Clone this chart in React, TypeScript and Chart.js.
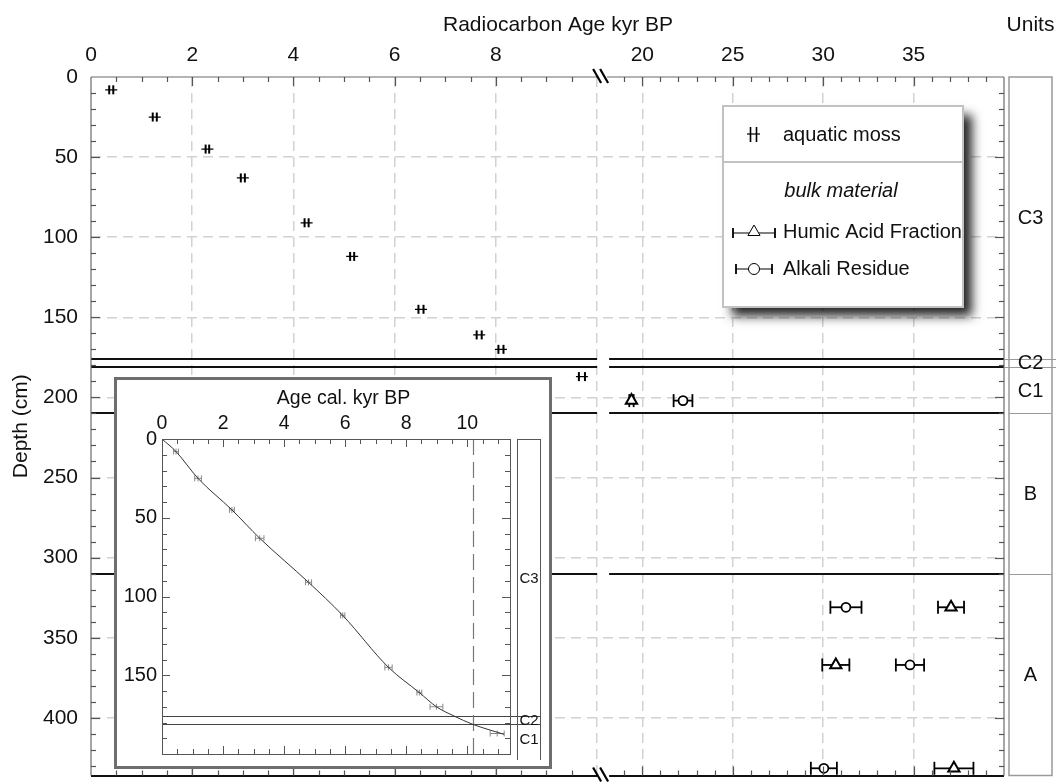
import React, { useEffect, useRef } from 'react';
import { Chart, registerables } from 'chart.js';

Chart.register(...registerables);

// ---------------- data ----------------
// aquatic moss (radiocarbon, left panel)
const mossAge = [0.4, 1.26, 2.3, 3.0, 4.26, 5.16, 6.52, 7.67, 8.1, 9.7];
const mossErr = [0.04, 0.04, 0.035, 0.04, 0.04, 0.04, 0.05, 0.05, 0.05, 0.06];
const mossDepth = [8, 25, 45, 63, 91, 112, 145, 161, 170, 187];

// bulk material (right panel)
const humicAge = [19.4, 37.07, 30.7, 37.23];
const humicErr = [0.12, 0.72, 0.75, 1.08];
const humicDepth = [202, 331, 367, 431.5];

const alkaliAge = [22.25, 31.26, 34.8, 30.04];
const alkaliErr = [0.52, 0.86, 0.78, 0.72];
const alkaliDepth = [202, 331, 367, 431.5];

// inset: calibrated ages of the moss samples
const calAge = [0.46, 1.18, 2.29, 3.2, 4.8, 5.92, 7.42, 8.43, 8.99, 10.98];
const calErr = [0.08, 0.11, 0.08, 0.14, 0.1, 0.07, 0.12, 0.08, 0.21, 0.23];

// inset: age-depth model curve
const modelAge = [0, 0.46, 1.18, 2.29, 3.2, 4.8, 5.92, 7.42, 8.43, 8.99, 9.58, 10.16, 11.2];
const modelDepth = [0, 8, 25, 45, 63, 91, 112, 145, 161, 170, 176, 181, 187.5];
const insetMarkerAge = 10.2;

// stratigraphic units
const unitNames = ['C3', 'C2', 'C1', 'B', 'A'];
const unitTop = [0, 176, 181, 210, 310];
const unitBottom = [176, 181, 210, 310, 436];

// axes
const xLeftMin = 0, xLeftMax = 10, xLeftMajor = 2, xLeftMinor = 0.5;
const xRightMin = 17.5, xRightMax = 40, xRightMajor = 5, xRightMinor = 1;
const depthMax = 436, depthMajor = 50, depthMinor = 10;
const insetAgeMax = 11.4, insetDepthMax = 200;

const FONT = '"Liberation Sans", Arial, Helvetica, sans-serif';
const GRID = '#d2d2d2';
const TXT = '#111';

// ---------------- helpers ----------------
function seg(ctx: CanvasRenderingContext2D, x1: number, y1: number, x2: number, y2: number) {
  ctx.beginPath();
  ctx.moveTo(x1, y1);
  ctx.lineTo(x2, y2);
  ctx.stroke();
}

function zeroPad(s: any) {
  s.paddingLeft = 0;
  s.paddingRight = 0;
  s.paddingTop = 0;
  s.paddingBottom = 0;
}

function hErrorBars(ctx: CanvasRenderingContext2D, xs: number[], ys: number[], errs: number[],
  xs_: any, ys_: any, cap: number, color: string, lw: number, bar: boolean) {
  ctx.strokeStyle = color;
  ctx.lineWidth = lw;
  for (let i = 0; i < xs.length; i++) {
    const x1 = xs_.getPixelForValue(xs[i] - errs[i]);
    const x2 = xs_.getPixelForValue(xs[i] + errs[i]);
    const py = ys_.getPixelForValue(ys[i]);
    if (bar) seg(ctx, x1, py, x2, py);
    seg(ctx, x1, py - cap, x1, py + cap);
    seg(ctx, x2, py - cap, x2, py + cap);
  }
}

function triangle(ctx: CanvasRenderingContext2D, cx: number, cy: number, r: number) {
  ctx.beginPath();
  ctx.moveTo(cx, cy - r);
  ctx.lineTo(cx + 0.866 * r, cy + 0.5 * r);
  ctx.lineTo(cx - 0.866 * r, cy + 0.5 * r);
  ctx.closePath();
  ctx.fill();
  ctx.stroke();
}

function drawLegend(ctx: CanvasRenderingContext2D) {
  const bx = 723, by = 106, bw = 240, bh = 201;
  ctx.save();
  ctx.shadowColor = 'rgba(0,0,0,0.85)';
  ctx.shadowBlur = 10;
  ctx.shadowOffsetX = 9;
  ctx.shadowOffsetY = 9;
  ctx.fillStyle = '#fff';
  ctx.fillRect(bx, by, bw, bh);
  ctx.restore();
  ctx.strokeStyle = '#c2c2c2';
  ctx.lineWidth = 2;
  ctx.strokeRect(bx, by, bw, bh);
  seg(ctx, bx, 162, bx + bw, 162);

  ctx.strokeStyle = '#000';
  ctx.fillStyle = '#fff';
  // moss symbol
  ctx.lineWidth = 1.2;
  seg(ctx, 747, 134, 760, 134);
  ctx.lineWidth = 1.6;
  seg(ctx, 750.5, 127, 750.5, 142);
  seg(ctx, 756.5, 127, 756.5, 142);
  // humic symbol
  ctx.lineWidth = 1.2;
  seg(ctx, 733, 233, 775, 233);
  ctx.lineWidth = 1.8;
  seg(ctx, 733, 228, 733, 238);
  seg(ctx, 775, 228, 775, 238);
  ctx.lineWidth = 1;
  triangle(ctx, 754, 232, 7);
  // alkali symbol
  ctx.lineWidth = 1.2;
  seg(ctx, 736, 269, 772, 269);
  ctx.lineWidth = 1.8;
  seg(ctx, 736, 264, 736, 274);
  seg(ctx, 772, 264, 772, 274);
  ctx.lineWidth = 1;
  ctx.beginPath();
  ctx.arc(754, 269, 5.5, 0, Math.PI * 2);
  ctx.fill();
  ctx.stroke();

  ctx.fillStyle = TXT;
  ctx.textBaseline = 'alphabetic';
  ctx.textAlign = 'left';
  ctx.font = `20px ${FONT}`;
  ctx.fillText('aquatic moss', 783, 141);
  ctx.fillText('Humic Acid Fraction', 783, 238);
  ctx.fillText('Alkali Residue', 783, 275);
  ctx.textAlign = 'center';
  ctx.font = `italic 20px ${FONT}`;
  ctx.fillText('bulk material', 841, 197);
}

// ---------------- main chart plugin ----------------
const mainDecor = {
  id: 'mainDecor',
  beforeDatasetsDraw(chart: any) {
    const { ctx, chartArea: ca } = chart;
    const xL = chart.scales.xL, xR = chart.scales.xR, y = chart.scales.y;
    ctx.save();
    ctx.strokeStyle = '#111';
    ctx.lineWidth = 2.2;
    for (const d of unitBottom) {
      const py = Math.round(y.getPixelForValue(d));
      seg(ctx, ca.left, py, xL.right, py);
      seg(ctx, xR.left + 12, py, ca.right, py);
    }
    hErrorBars(ctx, mossAge, mossDepth, mossErr, xL, y, 4.5, '#000', 2, false);
    hErrorBars(ctx, humicAge, humicDepth, humicErr, xR, y, 6.5, '#000', 1.8, true);
    hErrorBars(ctx, alkaliAge, alkaliDepth, alkaliErr, xR, y, 6.5, '#000', 1.8, true);
    ctx.restore();
  },
  afterDraw(chart: any) {
    const { ctx, chartArea: ca } = chart;
    const xL = chart.scales.xL, xR = chart.scales.xR, y = chart.scales.y;
    ctx.save();
    // frame
    ctx.strokeStyle = '#6a6a6a';
    ctx.lineWidth = 1.2;
    seg(ctx, ca.left, ca.top, xL.right, ca.top);
    seg(ctx, xR.left + 10, ca.top, ca.right, ca.top);
    seg(ctx, ca.left, ca.top, ca.left, ca.bottom);
    seg(ctx, ca.right, ca.top, ca.right, ca.bottom);

    // inward ticks
    ctx.strokeStyle = '#555';
    ctx.lineWidth = 1.2;
    for (let v = xLeftMin + xLeftMinor; v < xLeftMax - 1e-9; v += xLeftMinor) {
      const px = Math.round(xL.getPixelForValue(v)) + 0.5;
      const len = Math.abs(v / xLeftMajor - Math.round(v / xLeftMajor)) < 1e-9 ? 9 : 5;
      seg(ctx, px, ca.top, px, ca.top + len);
      seg(ctx, px, ca.bottom, px, ca.bottom - len);
    }
    for (let v = Math.ceil(xRightMin) + 1; v < xRightMax; v += xRightMinor) {
      const px = Math.round(xR.getPixelForValue(v)) + 0.5;
      const len = v % xRightMajor === 0 ? 9 : 5;
      seg(ctx, px, ca.top, px, ca.top + len);
      seg(ctx, px, ca.bottom, px, ca.bottom - len);
    }
    for (let v = depthMinor; v < depthMax; v += depthMinor) {
      const py = Math.round(y.getPixelForValue(v)) + 0.5;
      const len = v % depthMajor === 0 ? 9 : 5;
      seg(ctx, ca.left, py, ca.left + len, py);
      seg(ctx, ca.right, py, ca.right - len, py);
    }

    // axis break marks
    const bx = xL.right;
    ctx.strokeStyle = '#000';
    ctx.lineWidth = 2.2;
    for (const by of [ca.top, ca.bottom]) {
      seg(ctx, bx - 4, by - 8, bx + 4, by + 6);
      seg(ctx, bx + 3, by - 8, bx + 11, by + 6);
    }

    // titles
    ctx.fillStyle = TXT;
    ctx.font = `21px ${FONT}`;
    ctx.textAlign = 'center';
    ctx.textBaseline = 'alphabetic';
    ctx.fillText('Radiocarbon Age kyr BP', 558, 31);
    const colL = ca.right + 5, colR = ca.right + 48;
    ctx.fillText('Units', (colL + colR) / 2, 31);

    // units column
    ctx.strokeStyle = '#9a9a9a';
    ctx.lineWidth = 1.5;
    ctx.strokeRect(colL, ca.top, colR - colL, ca.bottom - ca.top);
    ctx.lineWidth = 1.2;
    for (let i = 0; i < unitNames.length - 1; i++) {
      const py = Math.round(y.getPixelForValue(unitBottom[i])) + 0.5;
      const thin = unitBottom[i] - unitTop[i] < 10 || unitBottom[i + 1] - unitTop[i + 1] < 10;
      if (thin) seg(ctx, ca.right, py, colR + 4, py);
      else seg(ctx, colL, py, colR, py);
    }
    ctx.font = `20px ${FONT}`;
    ctx.textBaseline = 'middle';
    for (let i = 0; i < unitNames.length; i++) {
      const py = y.getPixelForValue((unitTop[i] + unitBottom[i]) / 2);
      if (unitBottom[i] - unitTop[i] < 10) {
        const w = ctx.measureText(unitNames[i]).width;
        ctx.fillStyle = '#fff';
        ctx.fillRect((colL + colR) / 2 - w / 2, py - 3, w, 6);
      }
      ctx.fillStyle = TXT;
      ctx.fillText(unitNames[i], (colL + colR) / 2, py + 1);
    }

    drawLegend(ctx);
    ctx.restore();
  },
};

// ---------------- inset plugin ----------------
const insetDecor = {
  id: 'insetDecor',
  beforeDatasetsDraw(chart: any) {
    const { ctx, chartArea: ca } = chart;
    const x = chart.scales.x, y = chart.scales.y;
    ctx.save();
    const colR = ca.right + 30;
    ctx.strokeStyle = '#444';
    ctx.lineWidth = 1.1;
    for (const d of unitBottom) {
      if (d >= insetDepthMax) continue;
      const py = Math.round(y.getPixelForValue(d)) + 0.5;
      seg(ctx, ca.left, py, colR, py);
    }
    ctx.setLineDash([16, 7]);
    ctx.strokeStyle = '#777';
    ctx.lineWidth = 1.2;
    const mx = Math.round(x.getPixelForValue(insetMarkerAge)) + 0.5;
    seg(ctx, mx, ca.top, mx, ca.bottom);
    ctx.setLineDash([]);
    hErrorBars(ctx, calAge, mossDepth, calErr, x, y, 3, '#8a8a8a', 1, true);
    ctx.restore();
  },
  afterDraw(chart: any) {
    const { ctx, chartArea: ca } = chart;
    const x = chart.scales.x, y = chart.scales.y;
    ctx.save();
    ctx.strokeStyle = '#555';
    ctx.lineWidth = 1;
    ctx.strokeRect(Math.round(ca.left) + 0.5, Math.round(ca.top) + 0.5,
      Math.round(ca.right - ca.left), Math.round(ca.bottom - ca.top));
    for (let v = xLeftMinor; v < insetAgeMax - 1e-9; v += xLeftMinor) {
      const px = Math.round(x.getPixelForValue(v)) + 0.5;
      const len = Math.abs(v / xLeftMajor - Math.round(v / xLeftMajor)) < 1e-9 ? 8 : 5;
      seg(ctx, px, ca.top, px, ca.top + len);
      seg(ctx, px, ca.bottom, px, ca.bottom - len);
    }
    for (let v = depthMinor; v < insetDepthMax; v += depthMinor) {
      const py = Math.round(y.getPixelForValue(v)) + 0.5;
      const len = v % depthMajor === 0 ? 8 : 5;
      seg(ctx, ca.left, py, ca.left + len, py);
      seg(ctx, ca.right, py, ca.right - len, py);
    }
    // units column
    const colL = Math.round(ca.right) + 7.5, colR = Math.round(ca.right) + 30.5;
    const colB = ca.bottom + 6;
    ctx.strokeStyle = '#555';
    seg(ctx, colL, ca.top + 0.5, colR, ca.top + 0.5);
    seg(ctx, colL, ca.top, colL, colB);
    seg(ctx, colR, ca.top, colR, colB);
    ctx.font = `15px ${FONT}`;
    ctx.textAlign = 'center';
    ctx.textBaseline = 'middle';
    for (let i = 0; i < unitNames.length; i++) {
      if (unitTop[i] >= insetDepthMax) continue;
      const mid = (unitTop[i] + Math.min(unitBottom[i], insetDepthMax)) / 2;
      const py = y.getPixelForValue(mid);
      if (unitBottom[i] - unitTop[i] < 10) {
        const w = ctx.measureText(unitNames[i]).width;
        ctx.fillStyle = '#fff';
        ctx.fillRect((colL + colR) / 2 - w / 2, py - 2.5, w, 5);
      }
      ctx.fillStyle = TXT;
      ctx.fillText(unitNames[i], (colL + colR) / 2, py + 1);
    }
    // title
    ctx.font = `19.5px ${FONT}`;
    ctx.textBaseline = 'alphabetic';
    ctx.fillText('Age cal. kyr BP', 226.5, 24);
    ctx.restore();
  },
};

// ---------------- components ----------------
function MainChart() {
  const ref = useRef<HTMLCanvasElement>(null);
  useEffect(() => {
    const tickFont = { family: FONT, size: 21 };
    const chart = new Chart(ref.current as HTMLCanvasElement, {
      type: 'scatter',
      data: {
        datasets: [
          {
            label: 'aquatic moss',
            xAxisID: 'xL',
            yAxisID: 'y',
            data: mossAge.map((a, i) => ({ x: a, y: mossDepth[i] })),
            pointStyle: 'line',
            pointRadius: 6,
            borderColor: '#000',
            borderWidth: 1.3,
          },
          {
            label: 'Humic Acid Fraction',
            xAxisID: 'xR',
            yAxisID: 'y',
            data: humicAge.map((a, i) => ({ x: a, y: humicDepth[i] })),
            pointStyle: 'triangle',
            pointRadius: 6.5,
            borderColor: '#000',
            backgroundColor: '#fff',
            borderWidth: 2,
          },
          {
            label: 'Alkali Residue',
            xAxisID: 'xR',
            yAxisID: 'y',
            data: alkaliAge.map((a, i) => ({ x: a, y: alkaliDepth[i] })),
            pointStyle: 'circle',
            pointRadius: 4.5,
            borderColor: '#000',
            backgroundColor: '#fff',
            borderWidth: 1.8,
          },
        ],
      },
      options: {
        animation: false,
        responsive: false,
        events: [],
        layout: { padding: { left: 0, top: 0, right: 57, bottom: 6 } },
        plugins: { legend: { display: false }, tooltip: { enabled: false } },
        scales: {
          xL: {
            type: 'linear',
            axis: 'x',
            position: 'top',
            stack: 'top',
            weight: 1,
            stackWeight: (xLeftMax - xLeftMin) * 50.6,
            min: xLeftMin,
            max: xLeftMax,
            ticks: {
              stepSize: xLeftMajor,
              includeBounds: false,
              autoSkip: false,
              maxRotation: 0,
              minRotation: 0,
              padding: 9,
              color: TXT,
              font: tickFont,
              callback: (v: any) => (v < xLeftMax ? String(v) : ''),
            },
            grid: {
              drawTicks: false,
              lineWidth: 1.5,
              color: (c: any) => (c.tick && c.tick.value > xLeftMin ? GRID : 'transparent'),
            },
            border: { display: false, dash: [10, 6] },
            afterFit: (s: any) => { s.height = 77; zeroPad(s); },
          },
          xR: {
            type: 'linear',
            axis: 'x',
            position: 'top',
            stack: 'top',
            weight: 0,
            stackWeight: (xRightMax - xRightMin) * 18.08,
            min: xRightMin,
            max: xRightMax,
            ticks: {
              stepSize: xRightMajor,
              includeBounds: false,
              autoSkip: false,
              maxRotation: 0,
              minRotation: 0,
              padding: 9,
              color: TXT,
              font: tickFont,
              callback: (v: any) => (v % xRightMajor === 0 && v < xRightMax ? String(v) : ''),
            },
            grid: {
              drawTicks: false,
              lineWidth: 1.5,
              color: (c: any) => (c.tick && c.tick.value % xRightMajor === 0 && c.tick.value < xRightMax ? GRID : 'transparent'),
            },
            border: { display: false, dash: [10, 6] },
            afterFit: (s: any) => { s.height = 77; zeroPad(s); },
          },
          y: {
            type: 'linear',
            position: 'left',
            reverse: true,
            min: 0,
            max: depthMax,
            ticks: {
              stepSize: depthMajor,
              includeBounds: false,
              autoSkip: false,
              padding: 13,
              color: TXT,
              font: tickFont,
              callback: (v: any) => (v % depthMajor === 0 ? String(v) : ''),
            },
            grid: {
              drawTicks: false,
              lineWidth: 1.5,
              color: (c: any) => (c.tick && c.tick.value > 0 && c.tick.value % depthMajor === 0 ? GRID : 'transparent'),
            },
            border: { display: false, dash: [10, 6] },
            title: {
              display: true,
              text: 'Depth (cm)',
              color: TXT,
              font: { family: FONT, size: 21 },
              padding: { top: 9, bottom: 0 },
            },
            afterFit: (s: any) => { s.width = 91; zeroPad(s); },
          },
        },
      } as any,
      plugins: [mainDecor],
    } as any);
    return () => chart.destroy();
  }, []);
  return (
    <canvas
      ref={ref}
      width={1061}
      height={784}
      style={{ position: 'absolute', left: 0, top: 0, width: 1061, height: 784 }}
    />
  );
}

function InsetChart() {
  const ref = useRef<HTMLCanvasElement>(null);
  useEffect(() => {
    const chart = new Chart(ref.current as HTMLCanvasElement, {
      type: 'scatter',
      data: {
        datasets: [
          {
            label: 'age model',
            data: modelAge.map((a, i) => ({ x: a, y: modelDepth[i] })),
            showLine: true,
            pointRadius: 0,
            borderColor: '#333',
            borderWidth: 1,
            cubicInterpolationMode: 'monotone',
            fill: false,
          },
          {
            label: 'calibrated moss ages',
            data: calAge.map((a, i) => ({ x: a, y: mossDepth[i] })),
            pointStyle: 'line',
            rotation: 90,
            pointRadius: 3,
            borderColor: '#8a8a8a',
            borderWidth: 1,
          },
        ],
      },
      options: {
        animation: false,
        responsive: false,
        events: [],
        layout: { padding: { left: 0, top: 0, right: 39, bottom: 12 } },
        plugins: { legend: { display: false }, tooltip: { enabled: false } },
        scales: {
          x: {
            type: 'linear',
            position: 'top',
            min: 0,
            max: insetAgeMax,
            ticks: {
              stepSize: xLeftMajor,
              includeBounds: false,
              autoSkip: false,
              maxRotation: 0,
              minRotation: 0,
              padding: 4,
              color: TXT,
              font: { family: FONT, size: 19.5 },
              callback: (v: any) => (v % xLeftMajor === 0 ? String(v) : ''),
            },
            grid: { display: false, drawTicks: false },
            border: { display: false },
            afterFit: (s: any) => { s.height = 59; zeroPad(s); },
          },
          y: {
            type: 'linear',
            position: 'left',
            reverse: true,
            min: 0,
            max: insetDepthMax,
            ticks: {
              stepSize: depthMajor,
              autoSkip: false,
              padding: 5,
              color: TXT,
              font: { family: FONT, size: 20 },
              callback: (v: any) => (v < insetDepthMax ? String(v) : ''),
            },
            grid: { display: false, drawTicks: false },
            border: { display: false },
            afterFit: (s: any) => { s.width = 45; zeroPad(s); },
          },
        },
      } as any,
      plugins: [insetDecor],
    } as any);
    return () => chart.destroy();
  }, []);
  return <canvas ref={ref} width={432} height={386} style={{ display: 'block', width: 432, height: 386 }} />;
}

export default function App() {
  return (
    <div style={{ position: 'absolute', left: 0, top: 0, width: 1061, height: 784, background: '#fff', overflow: 'hidden' }}>
      <MainChart />
      <div
        style={{
          position: 'absolute',
          left: 114,
          top: 377,
          width: 438,
          height: 392,
          border: '3px solid #6e6e6e',
          boxSizing: 'border-box',
          background: '#fff',
        }}
      >
        <InsetChart />
      </div>
    </div>
  );
}
